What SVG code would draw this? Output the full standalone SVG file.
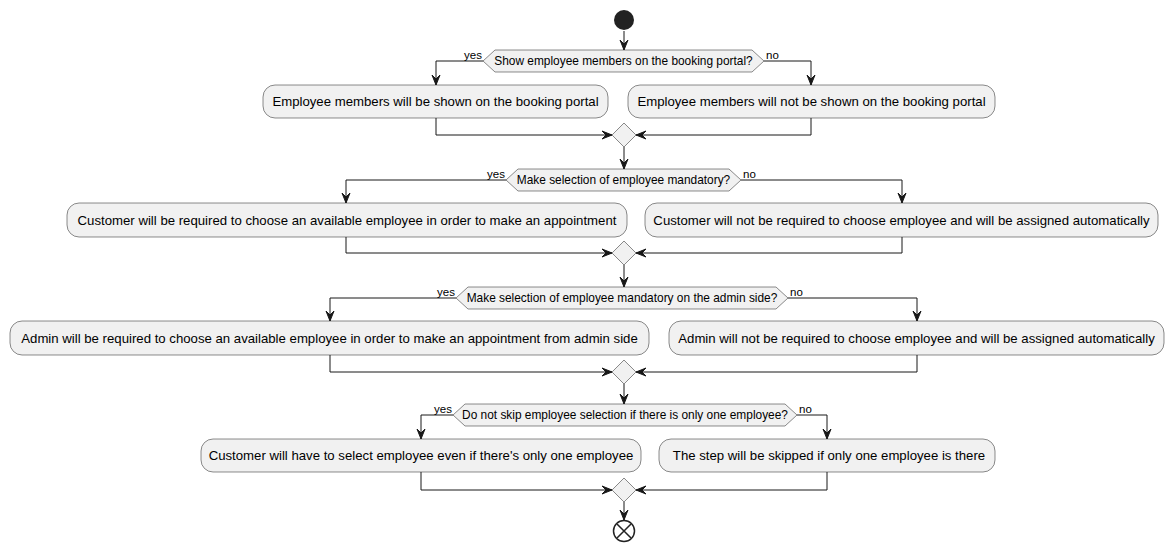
<svg xmlns="http://www.w3.org/2000/svg" width="1174" height="552" viewBox="0 0 1174 552">
<style>
.box{fill:#F1F1F1;stroke:#181818;stroke-width:0.5}
.dec{fill:#F1F1F1;stroke:#181818;stroke-width:0.5}
.t{font-family:"Liberation Sans",Arial,sans-serif;font-size:13.2px;fill:#000;text-anchor:middle}
.dt{font-family:"Liberation Sans",Arial,sans-serif;font-size:11.9px;fill:#000;text-anchor:middle}
.lbl{font-family:"Liberation Sans",Arial,sans-serif;font-size:11.5px;fill:#000}
.c{fill:none;stroke:#181818;stroke-width:1}
</style>
<defs>
<marker id="ah" markerUnits="userSpaceOnUse" markerWidth="12" markerHeight="10" viewBox="-11 -5 12 10" refX="0" refY="0" orient="auto">
<path d="M0,0 L-10,-4 L-6,0 L-10,4 Z" fill="#181818" stroke="#181818" stroke-width="1"/>
</marker>
</defs>
<g id="connectors">
<path class="c" d="M624,31 V50" marker-end="url(#ah)"/>
<path class="c" d="M483,61 H436 V85" marker-end="url(#ah)"/>
<path class="c" d="M764,61 H811 V85" marker-end="url(#ah)"/>
<path class="c" d="M436,118 V135 H612" marker-end="url(#ah)"/>
<path class="c" d="M811,118 V135 H636" marker-end="url(#ah)"/>
<path class="c" d="M624,147 V169" marker-end="url(#ah)"/>
<path class="c" d="M506,180 H346 V203" marker-end="url(#ah)"/>
<path class="c" d="M741,180 H902 V203" marker-end="url(#ah)"/>
<path class="c" d="M346,237 V253 H612" marker-end="url(#ah)"/>
<path class="c" d="M902,237 V253 H636" marker-end="url(#ah)"/>
<path class="c" d="M624,265 V287" marker-end="url(#ah)"/>
<path class="c" d="M456,298 H330 V321" marker-end="url(#ah)"/>
<path class="c" d="M788,298 H917 V321" marker-end="url(#ah)"/>
<path class="c" d="M330,355 V372 H612" marker-end="url(#ah)"/>
<path class="c" d="M917,355 V372 H636" marker-end="url(#ah)"/>
<path class="c" d="M624,384 V404" marker-end="url(#ah)"/>
<path class="c" d="M453,415 H421 V439" marker-end="url(#ah)"/>
<path class="c" d="M797,415 H827 V439" marker-end="url(#ah)"/>
<path class="c" d="M421,472 V490 H612" marker-end="url(#ah)"/>
<path class="c" d="M827,472 V490 H636" marker-end="url(#ah)"/>
<path class="c" d="M624,502 V520" marker-end="url(#ah)"/>
<text class="lbl" x="482" y="59" text-anchor="end">yes</text>
<text class="lbl" x="766" y="59">no</text>
<text class="lbl" x="505" y="178" text-anchor="end">yes</text>
<text class="lbl" x="743" y="178">no</text>
<text class="lbl" x="455" y="296" text-anchor="end">yes</text>
<text class="lbl" x="790" y="296">no</text>
<text class="lbl" x="452" y="413" text-anchor="end">yes</text>
<text class="lbl" x="799" y="413">no</text>
</g>
<g id="start"><circle cx="624" cy="20" r="10" fill="#222222"/></g>
<g id="d1"><polygon class="dec" points="483,61 495,50 752,50 764,61 752,72 495,72"/><text class="dt" x="623.5" y="65">Show employee members on the booking portal?</text></g>
<g id="a1"><rect class="box" x="263" y="85" width="345" height="33" rx="12"/><text class="t" x="435.5" y="106">Employee members will be shown on the booking portal</text></g>
<g id="a2"><rect class="box" x="628" y="85" width="367" height="33" rx="12"/><text class="t" x="811.5" y="106">Employee members will not be shown on the booking portal</text></g>
<g id="m1"><polygon class="dec" points="624,123 636,135 624,147 612,135"/></g>
<g id="d2"><polygon class="dec" points="506,180 518,169 729,169 741,180 729,191 518,191"/><text class="dt" x="623.5" y="184">Make selection of employee mandatory?</text></g>
<g id="a3"><rect class="box" x="67" y="203" width="560" height="34" rx="12"/><text class="t" x="347" y="224.5">Customer will be required to choose an available employee in order to make an appointment</text></g>
<g id="a4"><rect class="box" x="645" y="203" width="513" height="34" rx="12"/><text class="t" x="901.5" y="224.5">Customer will not be required to choose employee and will be assigned automatically</text></g>
<g id="m2"><polygon class="dec" points="624,241 636,253 624,265 612,253"/></g>
<g id="d3"><polygon class="dec" points="456,298 468,287 776,287 788,298 776,309 468,309"/><text class="dt" x="622" y="302">Make selection of employee mandatory on the admin side?</text></g>
<g id="a5"><rect class="box" x="10" y="321" width="639" height="34" rx="12"/><text class="t" x="329.5" y="342.5">Admin will be required to choose an available employee in order to make an appointment from admin side</text></g>
<g id="a6"><rect class="box" x="669" y="321" width="495" height="34" rx="12"/><text class="t" x="916.5" y="342.5">Admin will not be required to choose employee and will be assigned automatically</text></g>
<g id="m3"><polygon class="dec" points="624,360 636,372 624,384 612,372"/></g>
<g id="d4"><polygon class="dec" points="453,415 465,404 785,404 797,415 785,426 465,426"/><text class="dt" x="625" y="419">Do not skip employee selection if there is only one employee?</text></g>
<g id="a7"><rect class="box" x="201" y="439" width="440" height="33" rx="12"/><text class="t" x="421" y="460">Customer will have to select employee even if there's only one employee</text></g>
<g id="a8"><rect class="box" x="659" y="439" width="336" height="33" rx="12"/><text class="t" x="829" y="460">The step will be skipped if only one employee is there</text></g>
<g id="m4"><polygon class="dec" points="624,478 636,490 624,502 612,490"/></g>
<g id="end"><circle cx="624" cy="531" r="10.5" fill="#FFFFFF" stroke="#222222" stroke-width="1.5"/><path d="M617,524 L631,538 M631,524 L617,538" stroke="#222222" stroke-width="1.5"/></g>
</svg>
